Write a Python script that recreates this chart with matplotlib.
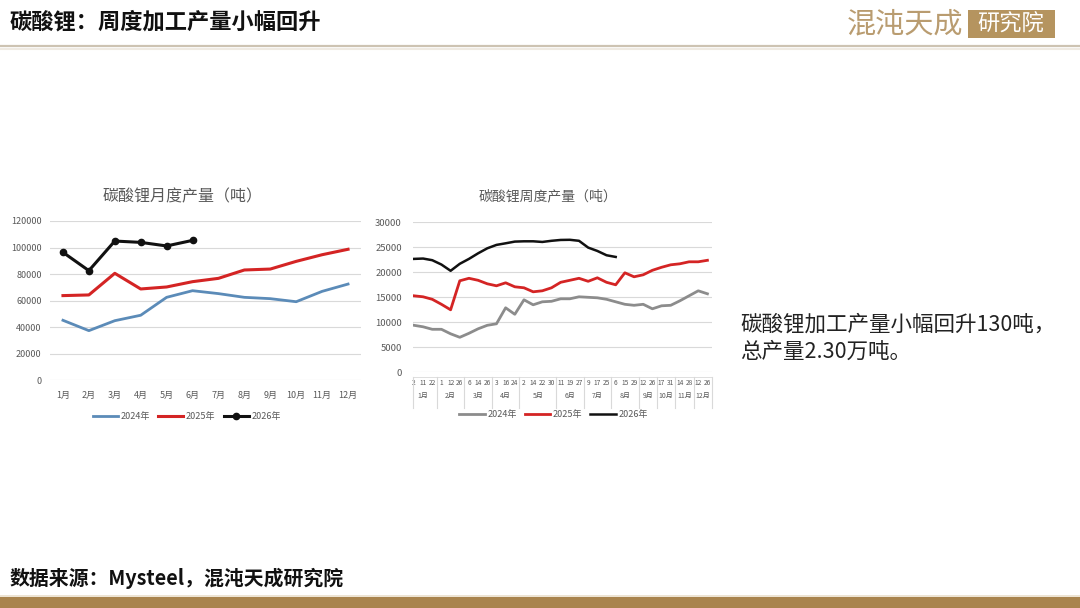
import matplotlib
matplotlib.use("Agg")
import matplotlib.pyplot as plt
from matplotlib.lines import Line2D
from matplotlib.patches import Rectangle
import matplotlib.transforms as mtransforms

plt.rcParams['font.family'] = ['Noto Sans CJK SC', 'DejaVu Sans']

# 月度数据
months = ['1月', '2月', '3月', '4月', '5月', '6月', '7月', '8月', '9月', '10月', '11月', '12月']
m2024 = [45200, 37400, 44900, 49000, 62500, 67500, 65300, 62500, 61500, 59200, 67000, 72500]
m2025 = [63800, 64300, 80600, 68800, 70300, 74300, 76800, 83100, 83800, 89600, 94600, 98700]
m2026 = [96400, 82600, 104900, 103900, 101200, 105400]

# 周度数据
week_days = ['2', '11', '22', '1', '12', '26', '6', '14', '26', '3', '16', '24',
             '2', '14', '22', '30', '11', '19', '27', '9', '17', '25', '6', '15', '29',
             '12', '26', '17', '31', '14', '28', '12', '26']
week_month_counts = [3, 3, 3, 3, 4, 3, 3, 3, 2, 2, 2, 2]
w2024 = [9400, 9100, 8600, 8600, 7700, 7000, 7800, 8700, 9400, 9700, 12900, 11600,
         14500, 13500, 14100, 14200, 14700, 14700, 15100, 15000, 14900, 14600, 14100,
         13600, 13400, 13600, 12700, 13300, 13400, 14300, 15300, 16300, 15700]
w2025 = [15300, 15100, 14600, 13600, 12500, 18300, 18800, 18400, 17700, 17300, 17900, 17100,
         16900, 16100, 16300, 16900, 18000, 18400, 18800, 18200, 18900, 18000, 17500,
         19900, 19100, 19500, 20400, 21000, 21500, 21700, 22100, 22100, 22400]
w2026 = [22680, 22750, 22420, 21550, 20300, 21700, 22680, 23800, 24800, 25480, 25800, 26140,
         26200, 26200, 26070, 26300, 26470, 26500, 26300, 24940, 24270, 23410, 23070]

fig = plt.figure(figsize=(10.8, 6.08), dpi=100)
fig.patch.set_facecolor('white')

grey_txt = '#595959'
grid_c = '#d9d9d9'

# 标题栏
fig.text(10 / 1080, 1 - 22 / 608, '碳酸锂：周度加工产量小幅回升', fontsize=16,
         fontweight='bold', color='#111111', va='center', ha='left')
fig.add_artist(Line2D([0, 1], [1 - 46 / 608] * 2, color='#cdc3b2', lw=1.6))
fig.add_artist(Line2D([0, 1], [1 - 48.5 / 608] * 2, color='#efeae2', lw=1.5))
fig.text(847 / 1080, 1 - 24 / 608, '混沌天成', fontsize=21, color='#b99c70',
         fontweight='light', va='center', ha='left')
fig.add_artist(Rectangle((968 / 1080, 1 - 38 / 608), 87 / 1080, 28 / 608,
                         transform=fig.transFigure, facecolor='#b5945f', edgecolor='none'))
fig.text(1011 / 1080, 1 - 24 / 608, '研究院', fontsize=16, color='white',
         fontweight='light', va='center', ha='center')

# 页脚
fig.text(10 / 1080, 1 - 578 / 608, '数据来源：Mysteel，混沌天成研究院', fontsize=14.3,
         fontweight='bold', color='#111111', va='center', ha='left')
fig.add_artist(Rectangle((0, 0), 1, 11 / 608, transform=fig.transFigure,
                         facecolor='#a9844e', edgecolor='none'))
fig.add_artist(Line2D([0, 1], [12 / 608] * 2, color='#eadfcc', lw=1.2))

# 右侧说明
fig.text(740 / 1080, 1 - 325 / 608, '碳酸锂加工产量小幅回升130吨，', fontsize=15.5,
         color='#222222', va='center', ha='left')
fig.text(740 / 1080, 1 - 352 / 608, '总产量2.30万吨。', fontsize=15.5,
         color='#222222', va='center', ha='left')

# 左图：月度
ax1 = fig.add_axes([50 / 1080, 1 - 380.3 / 608, 311 / 1080, 159.3 / 608])
x = list(range(len(months)))
ax1.plot(x, m2024, color='#5b8bb8', lw=2, label='2024年')
ax1.plot(x, m2025, color='#d42424', lw=2.2, label='2025年')
ax1.plot(range(len(m2026)), m2026, color='#111111', lw=2.2, marker='o', ms=4.5,
         label='2026年')
ax1.set_xlim(-0.5, 11.5)
ax1.set_ylim(0, 120000)
ax1.set_yticks(range(0, 120001, 20000))
ax1.set_xticks(x)
ax1.set_xticklabels(months)
ax1.grid(axis='y', color=grid_c, lw=0.8)
ax1.set_axisbelow(True)
for s in ax1.spines.values():
    s.set_visible(False)
ax1.tick_params(length=0, labelsize=6.5, colors=grey_txt, pad=6)
ax1.tick_params(axis='x', pad=8)
ax1.set_title('碳酸锂月度产量（吨）', fontsize=11.5, color=grey_txt, pad=14, x=0.426)
ax1.legend(loc='upper center', bbox_to_anchor=(0.44, -0.15), ncol=3, frameon=False,
           fontsize=6.5, labelcolor=grey_txt, handlelength=2.8, columnspacing=0.9,
           handletextpad=0.3)

# 右图：周度
ax2 = fig.add_axes([413 / 1080, 1 - 372.3 / 608, 299 / 1080, 150 / 608])
xi = list(range(len(week_days)))
ax2.plot(xi, w2024, color='#8c8c8c', lw=2, label='2024年')
ax2.plot(xi, w2025, color='#d42424', lw=2, label='2025年')
ax2.plot(range(len(w2026)), w2026, color='#111111', lw=1.8, label='2026年')
ax2.set_xlim(-0.1, len(week_days) - 0.5)
ax2.set_ylim(0, 30000)
ax2.set_yticks(range(0, 30001, 5000))
ax2.set_xticks(xi)
ax2.set_xticklabels(week_days)
ax2.grid(axis='y', color=grid_c, lw=0.8)
ax2.set_axisbelow(True)
for s in ax2.spines.values():
    s.set_visible(False)
ax2.tick_params(length=0, colors=grey_txt)
ax2.tick_params(axis='y', labelsize=6.8, pad=8)
ax2.tick_params(axis='x', labelsize=4.8, pad=5)
ax2.set_title('碳酸锂周度产量（吨）', fontsize=10, color=grey_txt, pad=16, x=0.45)

trans = mtransforms.blended_transform_factory(ax2.transData, ax2.transAxes)
bounds = [-0.1]
start = 0
for cnt, mname in zip(week_month_counts, months):
    end = start + cnt
    ax2.text((start + end - 1) / 2, -0.155, mname, transform=trans, fontsize=5,
             color=grey_txt, ha='center', va='center')
    bounds.append(end - 0.5)
    start = end
for b in bounds:
    ax2.plot([b, b], [-0.03, -0.24], transform=trans, color=grid_c, lw=0.8, clip_on=False)
ax2.plot([-0.1, len(week_days) - 0.5], [-0.03, -0.03], transform=trans, color=grid_c,
         lw=0.6, clip_on=False)
ax2.legend(loc='upper center', bbox_to_anchor=(0.47, -0.195), ncol=3, frameon=False,
           fontsize=6.5, labelcolor=grey_txt, handlelength=2.8, columnspacing=0.9,
           handletextpad=0.3)

fig.savefig('out.png', dpi=100, facecolor='white')
